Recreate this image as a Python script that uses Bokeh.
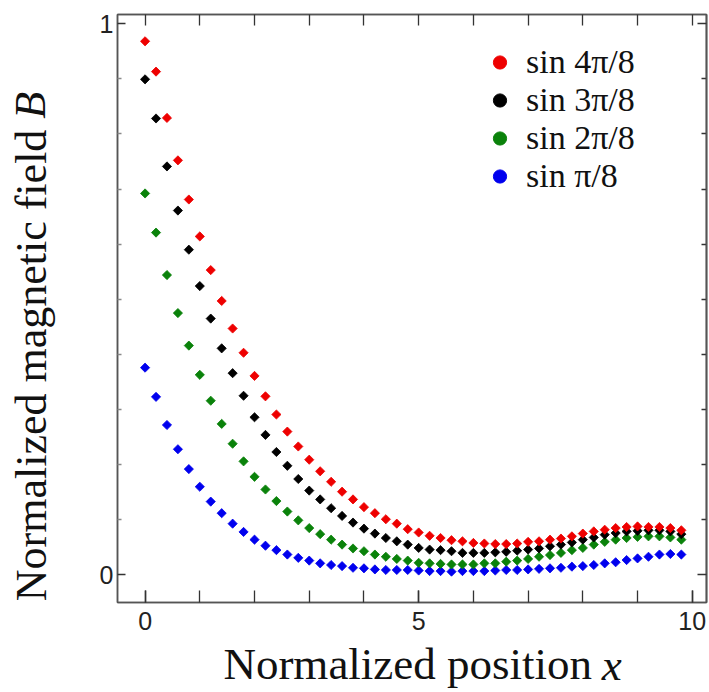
import numpy as np
from bokeh.plotting import figure
from bokeh.models import Range1d, LinearAxis, FixedTicker, Legend, LegendItem
from bokeh.embed import file_html
from bokeh.resources import INLINE

# ---------------- data ----------------
x_pos = [0.0, 0.2, 0.4, 0.6, 0.8, 1.0, 1.2, 1.4, 1.6, 1.8,
         2.0, 2.2, 2.4, 2.6, 2.8, 3.0, 3.2, 3.4, 3.6, 3.8,
         4.0, 4.2, 4.4, 4.6, 4.8, 5.0, 5.2, 5.4, 5.6, 5.8,
         6.0, 6.2, 6.4, 6.6, 6.8, 7.0, 7.2, 7.4, 7.6, 7.8,
         8.0, 8.2, 8.4, 8.6, 8.8, 9.0, 9.2, 9.4, 9.6, 9.8]

b_sin4 = [0.968, 0.913, 0.829, 0.752, 0.681, 0.614, 0.553, 0.497, 0.447, 0.403,
          0.361, 0.324, 0.291, 0.260, 0.233, 0.209, 0.188, 0.169, 0.151, 0.137,
          0.123, 0.112, 0.101, 0.093, 0.083, 0.077, 0.071, 0.067, 0.063, 0.061,
          0.058, 0.057, 0.056, 0.056, 0.057, 0.060, 0.061, 0.064, 0.066, 0.070,
          0.075, 0.079, 0.082, 0.085, 0.087, 0.088, 0.087, 0.087, 0.085, 0.081]

b_sin3 = [0.899, 0.828, 0.741, 0.661, 0.590, 0.524, 0.465, 0.411, 0.366, 0.325,
          0.286, 0.254, 0.223, 0.198, 0.174, 0.153, 0.137, 0.121, 0.107, 0.095,
          0.084, 0.075, 0.067, 0.061, 0.055, 0.049, 0.046, 0.045, 0.043, 0.040,
          0.040, 0.040, 0.041, 0.042, 0.044, 0.046, 0.048, 0.052, 0.055, 0.059,
          0.064, 0.068, 0.073, 0.076, 0.079, 0.080, 0.081, 0.081, 0.079, 0.074]

b_sin2 = [0.692, 0.621, 0.544, 0.475, 0.416, 0.363, 0.316, 0.274, 0.238, 0.206,
          0.178, 0.155, 0.134, 0.115, 0.099, 0.085, 0.074, 0.064, 0.055, 0.048,
          0.043, 0.037, 0.033, 0.029, 0.026, 0.022, 0.021, 0.020, 0.019, 0.019,
          0.019, 0.021, 0.021, 0.024, 0.026, 0.029, 0.033, 0.036, 0.040, 0.045,
          0.049, 0.055, 0.060, 0.064, 0.067, 0.069, 0.070, 0.070, 0.068, 0.064]

b_sin1 = [0.376, 0.323, 0.272, 0.228, 0.192, 0.160, 0.133, 0.112, 0.093, 0.078,
          0.064, 0.053, 0.045, 0.037, 0.031, 0.026, 0.021, 0.018, 0.016, 0.013,
          0.012, 0.010, 0.009, 0.009, 0.009, 0.008, 0.007, 0.007, 0.006, 0.007,
          0.007, 0.007, 0.008, 0.009, 0.009, 0.010, 0.011, 0.012, 0.013, 0.015,
          0.016, 0.018, 0.021, 0.023, 0.027, 0.030, 0.033, 0.037, 0.038, 0.037]

series_labels = ["sin 4\u03c0/8", "sin 3\u03c0/8", "sin 2\u03c0/8", "sin \u03c0/8"]
series_values = [b_sin4, b_sin3, b_sin2, b_sin1]
series_colors = ["#ee0000", "#000000", "#0a820a", "#0000ee"]

x_major = [0, 5, 10]
x_minor = list(range(0, 11))
y_major = [0, 1]
y_minor = [i / 10 for i in range(1, 10)]

x_title = "Normalized position"
x_title_var = "x"
y_title = "Normalized magnetic field"
y_title_var = "B"

# ---------------- figure ----------------
p = figure(width=709, height=692, output_backend="svg", toolbar_location=None,
           x_range=Range1d(-0.504, 10.26), y_range=Range1d(-0.050, 1.0166),
           min_border_left=117, min_border_right=3, min_border_top=14,
           min_border_bottom=90, x_axis_location=None, y_axis_location=None)
p.xgrid.visible = False
p.ygrid.visible = False
p.outline_line_color = "#555555"
p.outline_line_width = 1.5
p.background_fill_color = "white"
p.border_fill_color = "white"

AX = "#555555"
TK = "#333333"
SERIF = "Liberation Serif, Times New Roman, serif"


def tick_axis(ticks, minor, tick_in, minor_in, minor_color=TK):
    ax = LinearAxis(ticker=FixedTicker(ticks=ticks, minor_ticks=minor))
    ax.axis_line_color = AX
    ax.axis_line_width = 1.5
    ax.major_tick_in = tick_in
    ax.major_tick_out = 0
    ax.minor_tick_in = minor_in
    ax.minor_tick_out = 0
    ax.major_tick_line_color = TK
    ax.major_tick_line_width = 1.5
    ax.minor_tick_line_color = minor_color
    ax.minor_tick_line_width = 1.3
    ax.major_label_text_font = "Liberation Sans"
    ax.major_label_text_font_size = "25px"
    ax.major_label_text_color = "#222222"
    return ax


def title_axis(pos, text, italic, standoff, size, vertical=False):
    ax = LinearAxis(ticker=FixedTicker(ticks=[pos], minor_ticks=[]),
                    major_label_overrides={pos: text})
    ax.axis_line_color = None
    ax.major_tick_line_color = None
    ax.minor_tick_line_color = None
    ax.major_tick_in = 0
    ax.major_tick_out = 0
    ax.minor_tick_in = 0
    ax.minor_tick_out = 0
    ax.major_label_text_font = SERIF
    ax.major_label_text_font_size = size
    ax.major_label_text_color = "#111111"
    ax.major_label_text_font_style = "italic" if italic else "normal"
    ax.major_label_standoff = standoff
    if vertical:
        ax.major_label_orientation = "parallel"
    return ax


# bottom: ticks + labels, then title parts
bottom = tick_axis(x_major, x_minor, 12, 12)
bottom.major_label_standoff = 9
p.add_layout(bottom, "below")
p.add_layout(title_axis(4.8, x_title, False, 6, "45px"), "below")
p.add_layout(title_axis(8.53, x_title_var, True, -52, "45px"), "below")

# top: ticks only
p.add_layout(tick_axis([], x_minor, 11, 11), "above")

# left: ticks + labels, then title parts
left = tick_axis(y_major, y_minor, 8, 4, minor_color="#8a8a8a")
left.major_label_standoff = 4
p.add_layout(left, "left")
p.add_layout(title_axis(0.38, y_title, False, 40, "44px", vertical=True), "left")
p.add_layout(title_axis(0.852, y_title_var, True, -51, "44px", vertical=True), "left")

# right: ticks only
p.add_layout(tick_axis([], y_minor, 5, 5), "right")
p.add_layout(tick_axis([], y_major, 9, 9), "right")

# ---------------- data points ----------------
legend_renderers = []
for vals, col in zip(series_values, series_colors):
    # small circles hidden beneath the diamonds; they give the legend its round glyphs
    legend_renderers.append(p.scatter(x=x_pos, y=vals, marker="circle", size=2,
                                      fill_color=col, line_color=col))

for vals, col in zip(series_values[::-1], series_colors[::-1]):
    p.scatter(x=x_pos, y=vals, marker="square", angle=np.pi / 4, size=6.5,
              fill_color=col, line_color=col, line_width=0.8)

items = [LegendItem(label=lab, renderers=[r])
         for lab, r in zip(series_labels, legend_renderers)]
legend = Legend(items=items, location=(366, 407),
                border_line_color=None, background_fill_alpha=0,
                padding=0, margin=0, spacing=-7,
                glyph_width=33, glyph_height=34, label_height=34,
                label_standoff=10,
                label_text_font=SERIF, label_text_font_size="34px",
                label_text_color="#111111")
p.add_layout(legend)

open("out.html", "w").write(file_html(p, INLINE))
